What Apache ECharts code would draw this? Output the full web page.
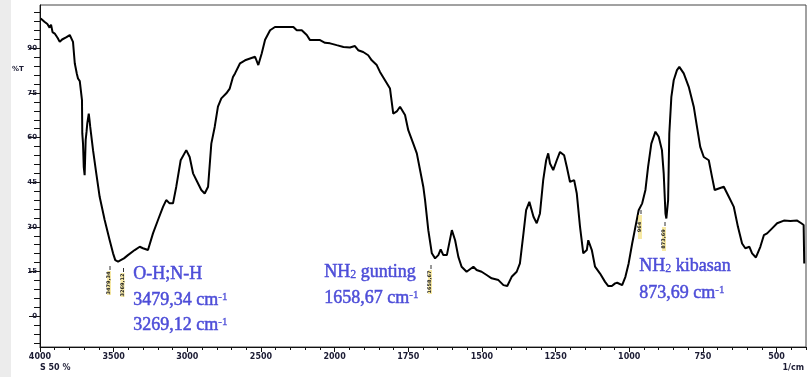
<!DOCTYPE html>
<html><head><meta charset="utf-8">
<script src="https://cdn.jsdelivr.net/npm/echarts@6/dist/echarts.min.js"></script>
<style>html,body{margin:0;padding:0;background:#fff}#c{width:807px;height:377px}</style>
</head><body><div id="c"></div>
<script>
// wavenumber (1/cm) and %T
const wavenumbers = [3995,3970,3950,3935,3925,3915,3900,3880,3866,3850,3844,3820,3798,3788,3776,3764,3750,3742,3730,3724,3715,3713,3708,3703,3697,3690,3684,3679,3669,3664,3659,3640,3618,3595,3561,3527,3504,3489,3470,3452,3430,3403,3357,3323,3301,3267,3233,3199,3165,3143,3120,3097,3075,3045,3007,2984,2961,2932,2905,2882,2859,2837,2814,2792,2769,2735,2712,2690,2676,2642,2608,2574,2540,2518,2495,2472,2438,2405,2348,2280,2257,2223,2189,2167,2133,2099,2065,2031,1993,1970,1948,1931,1920,1903,1886,1874,1857,1846,1829,1812,1801,1789,1778,1761,1750,1733,1721,1710,1699,1693,1682,1670,1659,1648,1640,1631,1619,1602,1591,1580,1569,1552,1529,1518,1501,1484,1467,1444,1427,1414,1399,1382,1371,1359,1350,1339,1325,1314,1303,1292,1282,1275,1269,1258,1246,1235,1221,1212,1201,1187,1178,1167,1156,1144,1139,1127,1116,1099,1082,1071,1059,1048,1041,1024,1013,1002,990,979,968,956,945,936,925,911,900,889,883,877,874,868,864,857,849,838,830,815,798,781,770,759,747,730,719,710,696,679,662,645,631,617,606,592,583,570,555,543,532,515,498,475,453,430,416,408,406];
const transmittance = [100.1,99.0,98.2,97.0,98.0,95.5,95.0,93.5,92.2,93.0,93.3,93.8,94.5,95.0,92.2,85.0,81.5,79.9,79.0,78.8,72.6,61.5,58.0,50.2,47.4,59.2,62.0,64.8,68.1,66.0,63.6,55.8,48.0,40.1,32.3,25.5,21.1,18.8,18.3,18.8,19.4,20.5,22.2,23.3,22.8,22.2,27.8,32.3,36.7,39.0,37.9,37.9,43.5,52.4,55.8,53.5,48.0,45.1,42.4,41.2,43.5,58.0,63.6,70.4,73.2,74.9,76.5,80.4,81.6,85.0,86.0,86.6,87.2,84.4,88.3,92.9,96.1,97.2,97.2,97.2,96.1,96.1,94.5,92.8,92.8,92.8,91.9,91.7,91.1,90.5,90.3,90.8,89.4,88.8,87.7,86.0,84.4,82.1,79.3,76.5,68.1,68.8,70.4,67.6,62.5,58.0,54.7,49.1,43.5,39.0,28.9,21.1,19.4,20.5,22.4,20.5,20.5,28.9,25.5,19.9,16.6,14.9,16.6,15.5,14.9,13.8,12.7,12.1,10.4,10.1,13.2,14.9,17.7,27.8,35.6,38.4,33.4,31.2,34.5,45.7,52.4,54.7,51.3,49.1,52.4,55.2,54.1,50.2,45.1,45.7,41.2,30.0,21.1,22.2,25.5,22.2,16.6,14.3,11.5,10.1,10.1,11.0,11.2,10.4,13.2,17.7,24.4,30.0,35.6,37.9,42.4,50.2,58.0,62.0,60.3,55.8,48.0,34.5,32.8,39.0,61.4,73.7,79.3,82.7,83.8,81.6,77.1,70.4,63.6,56.9,53.5,52.4,46.8,42.4,42.9,43.5,40.1,36.7,30.0,24.4,22.8,23.3,21.1,19.7,23.3,27.2,27.8,29.5,31.2,32.1,32.0,32.1,31.2,30.6,17.7];
const xTickLabels = [4000,3500,3000,2500,2000,1750,1500,1250,1000,750,500];
const yTickLabels = [0,15,30,45,60,75,90];
const peakMarks = ['3479,34','3269,12','1658,67','964','873,69'];

// the instrument's abscissa doubles its scale below 2000 1/cm
function toU(w){ return w >= 2000 ? w : 2*w - 2000; }
function toW(u){ return u >= 2000 ? u : (u + 2000) / 2; }

const xMajor = xTickLabels.map(toU);
const xMinor = [];
for (let u = -1200; u <= 4000; u += 100) if (u % 500 !== 0) xMinor.push(u);
const yMinor = [];
for (let v = -9; v <= 102; v += 3) if (v % 15 !== 0) yMinor.push(v);

const seriesData = wavenumbers.map((w, i) => [toU(w), transmittance[i]]);

const chart = echarts.init(document.getElementById('c'), null, {renderer: 'canvas'});
const axisFont = {fontFamily: 'DejaVu Sans', fontWeight: 'bold', fontSize: 7, color: '#1c1c34'};
const xAxisFont = {fontFamily: 'DejaVu Sans', fontWeight: 'bold', fontSize: 8, color: '#1c1c34'};
const blue = '#4d4dd8';
const serif = 'Liberation Serif';
const rich = {
  sup: {fontFamily: serif, fontSize: 11, fill: blue, stroke: blue, lineWidth: 0.3, verticalAlign: 'top', padding: [0,0,6,0]},
  sub: {fontFamily: serif, fontSize: 12, fill: blue, stroke: blue, lineWidth: 0.3, verticalAlign: 'bottom', padding: [4,0,0,0]},
  m: {fontFamily: serif, fontSize: 18, fill: blue, stroke: blue, lineWidth: 0.5}
};
function ann(x, y, text){
  return {type: 'text', left: x, top: y - 11, z: 10,
    style: {text: text, font: '18px "Liberation Serif"', fill: blue, rich: rich}};
}
function mark(x, y, t){
  return [
    {type: 'rect', shape: {x: x - 2, y: y - 12, width: 4, height: 24}, style: {fill: 'rgba(240,215,90,0.55)'}, z: 9},
    {type: 'text', x: x, y: y, rotation: Math.PI/2, z: 10,
      style: {text: t, font: 'bold 5px "DejaVu Sans"', fill: '#222', align: 'center', verticalAlign: 'middle'}},
    {type: 'line', shape: {x1: x + 1, y1: y - 17, x2: x + 1, y2: y - 13}, style: {stroke: '#333', lineWidth: 1}, z: 10}
  ];
}

const option = {
  animation: false,
  backgroundColor: '#fff',
  grid: {left: 40, top: 5, width: 766, height: 342, show: true, borderColor: '#444', borderWidth: 1, containLabel: false},
  xAxis: [{
    type: 'value', min: -1200, max: 4000, inverse: true,
    axisLine: {show: true, onZero: false, lineStyle: {color: '#111', width: 1}},
    splitLine: {show: false},
    axisTick: {show: true, length: 5, customValues: xMajor, lineStyle: {color: '#111'}},
    axisLabel: Object.assign({show: true, margin: 6, customValues: xMajor, formatter: v => String(Math.round(toW(v)))}, xAxisFont)
  }, {
    type: 'value', min: -1200, max: 4000, inverse: true, position: 'bottom',
    axisLine: {show: false, onZero: false}, splitLine: {show: false},
    axisTick: {show: true, length: 3, customValues: xMinor, lineStyle: {color: '#111'}},
    axisLabel: {show: false}
  }],
  yAxis: [{
    type: 'value', min: -10.4, max: 104.6,
    axisLine: {show: true, onZero: false, lineStyle: {color: '#111', width: 1}},
    splitLine: {show: false},
    axisTick: {show: true, length: 11, customValues: yTickLabels, lineStyle: {color: '#111'}},
    axisLabel: Object.assign({show: true, margin: 3, customValues: yTickLabels}, axisFont)
  }, {
    type: 'value', min: -10.4, max: 104.6, position: 'left',
    axisLine: {show: false, onZero: false}, splitLine: {show: false},
    axisTick: {show: true, length: 6, customValues: yMinor, lineStyle: {color: '#111'}},
    axisLabel: {show: false}
  }],
  series: [{
    type: 'line', data: seriesData, xAxisIndex: 0, yAxisIndex: 0,
    showSymbol: false, symbol: 'none', smooth: false,
    lineStyle: {color: '#000', width: 2}, z: 5
  }],
  graphic: [
    {type: 'rect', shape: {x: 0, y: 0, width: 11, height: 377}, style: {fill: '#ececec'}, z: 0},
    {type: 'text', left: 12, top: 66, style: {text: '%T', font: 'bold 7px "DejaVu Sans"', fill: '#1c1c34'}},
    {type: 'text', left: 40, top: 364, style: {text: 'S 50 %', font: 'bold 8px "DejaVu Sans"', fill: '#1c1c34'}},
    {type: 'text', right: 3, top: 364, style: {text: '1/cm', font: 'bold 8px "DejaVu Sans"', fill: '#1c1c34'}},
    ann(133, 276, '{m|O-H;N-H}'),
    ann(133, 302, '{m|3479,34 cm}{sup|-1}'),
    ann(133, 327, '{m|3269,12 cm}{sup|-1}'),
    ann(324, 274, '{m|NH}{sub|2}{m| gunting}'),
    ann(324, 300, '{m|1658,67 cm}{sup|-1}'),
    ann(639, 268, '{m|NH}{sub|2}{m| kibasan}'),
    ann(639, 295, '{m|873,69 cm}{sup|-1}')
  ].concat(mark(109, 283, peakMarks[0]), mark(122.5, 285, peakMarks[1]), mark(430, 282, peakMarks[2]),
           mark(640, 227, peakMarks[3]), mark(664, 239, peakMarks[4]))
};
chart.setOption(option);
</script></body></html>
